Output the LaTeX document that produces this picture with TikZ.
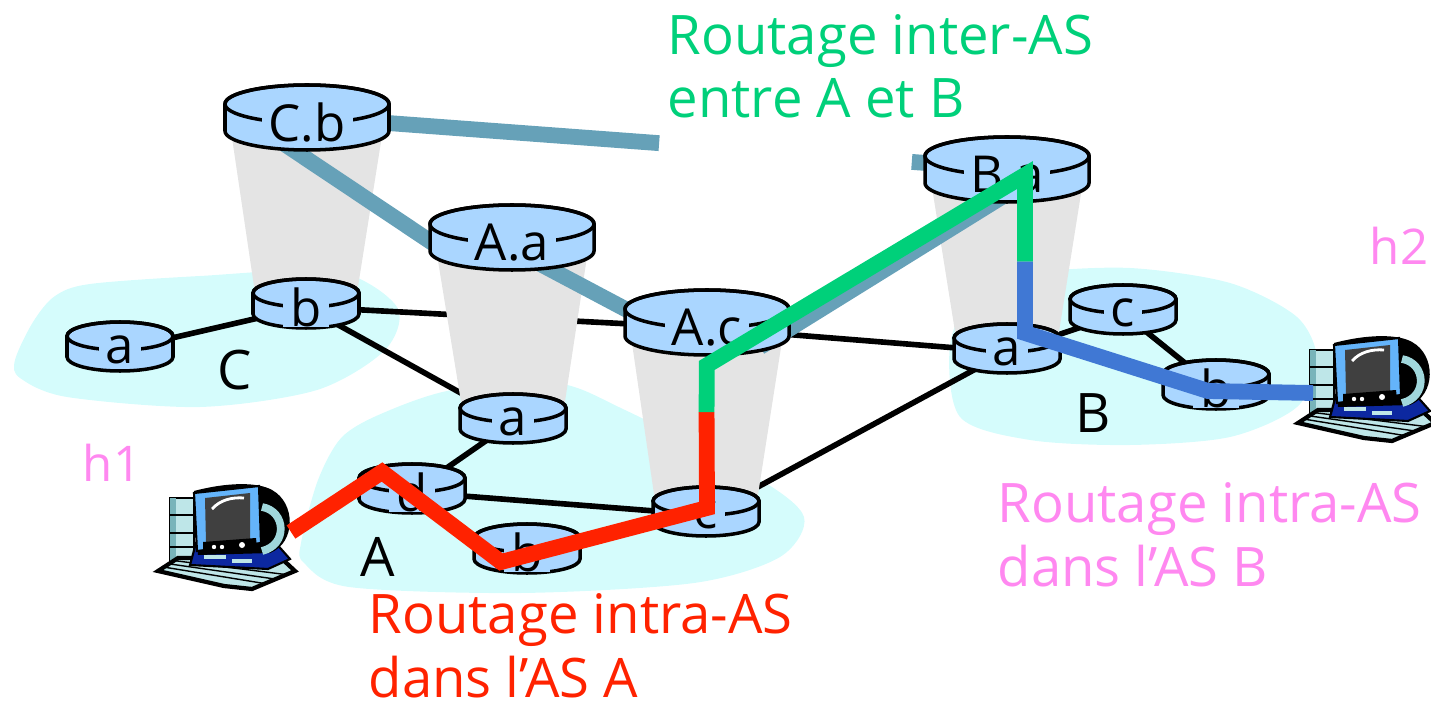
\documentclass[tikz,border=0pt]{standalone}
\usepackage{fontspec}
\setmainfont{Open Sans}
\usetikzlibrary{calc}

\definecolor{blobcyan}{RGB}{213,252,252}
\definecolor{conegrey}{RGB}{228,228,228}
\definecolor{rtrblue}{RGB}{170,214,255}
\definecolor{aslinkc}{RGB}{102,161,184}
\definecolor{intraA}{RGB}{255,34,0}
\definecolor{interAB}{RGB}{0,208,122}
\definecolor{intraB}{RGB}{64,120,212}
\definecolor{hostpink}{RGB}{255,136,240}
\definecolor{pcteal}{RGB}{190,230,232}
\definecolor{pctealdark}{RGB}{120,180,186}
\definecolor{pcblue}{RGB}{100,180,250}
\definecolor{pcnavy}{RGB}{12,40,160}
\definecolor{pcscreen}{RGB}{64,64,64}
\definecolor{pcarm}{RGB}{160,215,220}

\newcommand{\rtrfont}{\fontsize{14.5}{16}\selectfont}
\newcommand{\notefont}{\fontsize{15.5}{18.2}\selectfont}
\newcommand{\hostfont}{\fontsize{14}{16}\selectfont}

% router: #1 point on the label line, #2 x radius, #3 y radius, #4 height, #5 label
\newcommand{\router}[5]{%
    \filldraw[rtr, fill=rtrblue] ($(#1)+(-#2,#3)$) -- ++(0,-#4)
        arc[start angle=180, end angle=360, x radius=#2, y radius=#3]
        -- ++(0,#4)
        arc[start angle=0, end angle=180, x radius=#2, y radius=#3] -- cycle;
    \draw[rtr] ($(#1)+(0,#3)$) ellipse[x radius=#2, y radius=#3];
    \node[rtrlabel] (#1-l) at (#1) {#5};
}

% desktop computer: #1 name, #2 top left corner
\newcommand{\computer}[2]{%
    \begin{scope}[shift={(#2)}, yscale=-1]
        % tower
        \filldraw[fill=pcteal, line width=0.5pt] (12,13) rectangle (36,84);
        \fill[pctealdark] (12,13) rectangle (18,84);
        \draw[line width=0.5pt] (12,30) -- (36,30);
        \draw[line width=0.5pt] (12,48) -- (36,48);
        \draw[line width=0.5pt] (12,62) -- (36,62);
        % keyboard
        \filldraw[fill=pcteal, line width=1.2pt] (0,86) -- (20,73) -- (122,72) -- (137,86) -- (94,104) -- (66,101) -- cycle;
        \draw[line width=0.4pt] ($(0,86)!0.3!(20,73)$) -- ($(94,104)!0.3!(137,86)$);
        \draw[line width=0.4pt] ($(0,86)!0.55!(20,73)$) -- ($(94,104)!0.55!(137,86)$);
        \draw[line width=0.4pt] ($(0,86)!0.8!(20,73)$) -- ($(94,104)!0.8!(137,86)$);
        % base
        \filldraw[fill=pcnavy, line width=0.6pt] (32,80) -- (38,58) -- (116,56) -- (132,74) -- (110,84) -- cycle;
        \fill[pcteal] (46,70) rectangle (68,74);
        \fill[pcteal] (74,74) rectangle (94,78);
        % tube and stand
        \fill (36,6) .. controls (70,-3) and (100,-3) .. (114,5)
            .. controls (138,18) and (138,58) .. (112,68) -- (40,70) -- cycle;
        \draw[pcarm, line width=2.2pt] (104,22) .. controls (128,26) and (130,60) .. (104,66);
        % front
        \filldraw[fill=pcblue, line width=0.6pt] (36,8) -- (101,1) -- (103,58) -- (39,66) -- cycle;
        \fill[pcscreen] (47,13) -- (92,8) -- (92,54) -- (48,58) -- cycle;
        \draw[white, line width=0.8pt] (54,24) .. controls (62,15) and (74,12) .. (86,13);
        \fill (45,57) -- (98,53) -- (99,63) -- (45,67) -- cycle;
        \fill[white] (56,62) circle[radius=2.2] (64,62) circle[radius=2.2] (84,60) circle[radius=3];
        \coordinate (#1-e) at (133,47);
        \coordinate (#1-w) at (15,56);
    \end{scope}
}

\begin{document}
\begin{tikzpicture}[x=0.1mm, y=0.1mm,
    rtr/.style={draw=black, line width=1pt},
    rtrlabel/.style={fill=rtrblue, inner xsep=2pt, inner ysep=0pt, font=\rtrfont},
    link/.style={draw=black, line width=1.6pt},
    aslink/.style={draw=aslinkc, line width=4.5pt},
    cone/.style={fill=conegrey},
    blob/.style={fill=blobcyan},
    route/.style={line width=4.5pt},
    note/.style={anchor=base west, align=left, inner sep=0pt, font=\notefont},
    region/.style={font=\notefont},
    host/.style={font=\hostfont, text=hostpink}]
    \useasboundingbox (0,0) rectangle (1431,-707);
    % routers, placed on the line through their labels
    \coordinate (CB) at (307,-123);
    \coordinate (AA) at (512,-243);
    \coordinate (AC) at (707,-328);
    \coordinate (BA) at (1007,-175);
    \coordinate (Ca) at (120,-350);
    \coordinate (Cb) at (306,-307);
    \coordinate (Aa) at (513,-422);
    \coordinate (Ad) at (412,-492);
    \coordinate (Ab) at (527,-552);
    \coordinate (Ac) at (706,-515);
    \coordinate (Ba) at (1007,-352);
    \coordinate (Bc) at (1123,-313);
    \coordinate (Bb) at (1216,-388);
    %
    \fill[blob] plot[smooth cycle] coordinates {(15,-360) (33,-322) (55,-296) (90,-284) (200,-276) (335,-271)
        (397,-307) (385,-350) (317,-390) (200,-407) (67,-397) (20,-378)};
    \fill[blob] plot[smooth cycle] coordinates {(301,-543) (318,-480) (342,-437) (383,-413) (452,-390) (556,-383)
        (625,-410) (756,-477) (804,-517) (780,-557) (694,-583) (521,-593) (349,-587) (304,-563)};
    \fill[blob] plot[smooth cycle] coordinates {(950,-345) (975,-292) (1030,-273) (1130,-268) (1230,-283) (1297,-317)
        (1317,-360) (1297,-407) (1230,-437) (1130,-445) (1030,-440) (960,-417)};
    %
    \draw[link] (Ca) -- (Cb);
    \draw[link] (Cb) -- (AC);
    \draw[link] (Cb) -- (Aa);
    \draw[link] (Aa) -- (Ad);
    \draw[link] (Ad) -- (Ac);
    \draw[link] (Ab) -- (Ac);
    \draw[link] (Ac) -- (Ba);
    \draw[link] (AC) -- (Ba);
    \draw[link] (Ba) -- (Bc);
    \draw[link] (Bc) -- (Bb);
    %
    \fill[cone] ($(CB)+(-80,19)$) -- ($(Cb)+(-51,14)$) -- ($(Cb)+(51,14)$) -- ($(CB)+(80,19)$) -- cycle;
    \fill[cone] ($(AA)+(-80,19)$) -- ($(Aa)+(-51,14)$) -- ($(Aa)+(51,14)$) -- ($(AA)+(80,19)$) -- cycle;
    \fill[cone] ($(AC)+(-80,19)$) -- ($(Ac)+(-51,14)$) -- ($(Ac)+(51,14)$) -- ($(AC)+(80,19)$) -- cycle;
    \fill[cone] ($(BA)+(-80,19)$) -- ($(Ba)+(-51,14)$) -- ($(Ba)+(51,14)$) -- ($(BA)+(80,19)$) -- cycle;
    %
    \draw[aslink] ($(CB)+(0,6)$) -- ($(CB)!0.503!(BA)+(0,6)$);
    \draw[aslink] ($(CB)!0.864!(BA)+(0,6)$) -- ($(BA)+(0,6)$);
    \draw[aslink] ($(CB)+(-57,2)$) -- ($(AA)+(-57,-15)$);
    \draw[aslink] ($(AA)+(0,-6)$) -- ($(AC)+(-27,-10)$);
    \draw[aslink] ($(AC)+(53,-19)$) -- ($(BA)+(-2,-20)$);
    %
    \router{CB}{82}{19}{27}{C.b}
    \router{AA}{82}{19}{27}{A.a}
    \router{AC}{82}{19}{27}{A.c}
    \router{BA}{82}{19}{27}{B.a}
    \router{Ca}{53}{14}{21}{a}
    \router{Cb}{53}{14}{21}{b}
    \router{Aa}{53}{14}{21}{a}
    \router{Ad}{53}{14}{21}{d}
    \router{Ab}{53}{14}{21}{b}
    \router{Ac}{53}{14}{21}{c}
    \router{Ba}{53}{14}{21}{a}
    \router{Bc}{53}{14}{21}{c}
    \router{Bb}{53}{14}{21}{b}
    %
    \computer{h1pc}{158,-485}
    \computer{h2pc}{1298,-337}
    %
    \node[region] (Cname) at (235,-370) {C};
    \node[region] (Aname) at (378,-557) {A};
    \node[region] (Bname) at (1093,-413) {B};
    \node[host] (h1) at (112,-463) {h1};
    \node[host] (h2) at (1399,-246) {h2};
    %
    \coordinate (ABin) at ($(AC)!0.45!(Ac)$);
    \coordinate (ABout) at ($(BA)!0.49!(Ba)+(18,0)$);
    \draw[route, intraA] (h1pc-e) -- ($(Ad)+(-30,20)$) -- ($(Ab)+(-26,-10)$) -- ($(Ac)+(1,7)$) -- (ABin);
    \draw[route, interAB] (ABin) -- ($(AC)!0.2!(Ac)$) -- ($(BA)+(18,0)$) -- (ABout);
    \draw[route, intraB] (ABout) -- ($(Ba)+(18,19)$) -- ($(Bb)+(-8,-3)$) -- (h2pc-w);
    %
    \node[note, text=interAB] (interNote) at (667,-118) {Routage inter-AS\\entre A et B};
    \node[note, text=hostpink] (intraBNote) at (997,-586) {Routage intra-AS\\dans l’AS B};
    \node[note, text=intraA] (intraANote) at (368,-697) {Routage intra-AS\\dans l’AS A};
\end{tikzpicture}
\end{document}
